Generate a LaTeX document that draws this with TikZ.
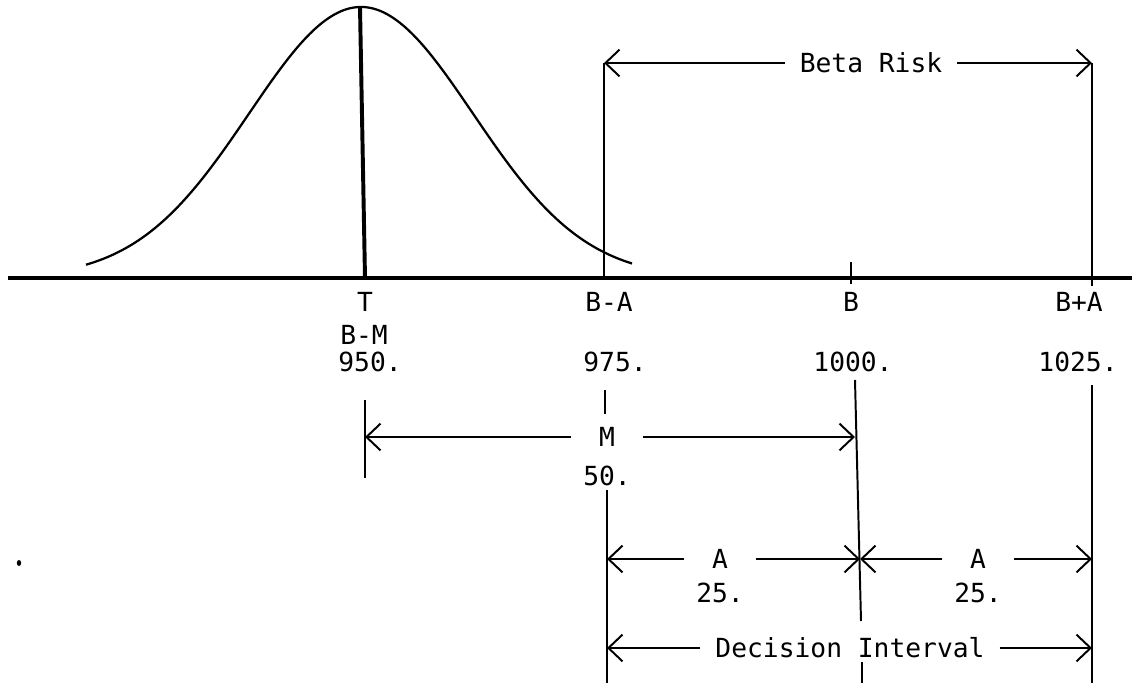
\documentclass[tikz,border=0pt]{standalone}
\usepackage{fontspec}
\setmainfont{DejaVu Sans Mono}
\usetikzlibrary{arrows.meta}

\begin{document}
\begin{tikzpicture}[x=0.025cm, y=-0.025cm, line width=1.4pt,
    lbl/.style={font=\fontsize{18.7}{20}\selectfont, inner ysep=0pt, inner xsep=10pt},
    wide/.style={inner xsep=19pt},
    barb/.style={-{Straight Barb[length=10pt,width=19pt]}}]
  \useasboundingbox (0,0) rectangle (1132,683);

  % axis and the distribution
  \coordinate (axL) at (8,278);
  \coordinate (axR) at (1132,278);
  \draw[line width=2.4pt] (axL) -- (axR);
  \draw[line width=1.6pt] plot[domain=86:632, samples=90, smooth]
    (\x, {278-271*exp(-0.5*((\x-361)/112)^2)});
  \coordinate (Ttop) at (360,7);
  \coordinate (Tbot) at (365,278);
  \draw[line width=2.8pt] (Ttop) -- (Tbot);

  % beta risk box
  \coordinate (bl) at (604,63);
  \coordinate (blA) at (604,278);
  \coordinate (br) at (1092,63);
  \coordinate (brA) at (1092,286);
  \draw (blA) -- (bl);
  \draw (brA) -- (br);
  \node[lbl] (beta) at (871,63) {Beta Risk};
  \draw[barb] (beta) -- (bl);
  \draw[barb] (beta) -- (br);
  \coordinate (Bt) at (851,262);
  \coordinate (Bb) at (851,284);
  \draw (Bt) -- (Bb);

  % axis labels
  \node[lbl] (T) at (365,302) {T};
  \node[lbl] (BmA) at (609,302) {B-A};
  \node[lbl] (B) at (851,302) {B};
  \node[lbl] (BpA) at (1079,302) {B+A};
  \node[lbl] (BmM) at (364,335) {B-M};
  \node[lbl] (v950) at (370,362) {950.};
  \node[lbl] (v975) at (615,362) {975.};
  \node[lbl] (v1000) at (853,362) {1000.};
  \node[lbl] (v1025) at (1078,362) {1025.};

  % extension lines
  \coordinate (e1t) at (365,400);
  \coordinate (e1b) at (365,478);
  \coordinate (e2t) at (605,390);
  \coordinate (e2b) at (605,414);
  \coordinate (e3t) at (607,490);
  \coordinate (e3b) at (607,683);
  \coordinate (e4t) at (855,380);
  \coordinate (e4b) at (861,621);
  \coordinate (e5t) at (862,662);
  \coordinate (e5b) at (862,683);
  \coordinate (e6t) at (1092,385);
  \coordinate (e6b) at (1092,683);
  \foreach \a in {1,...,6}
    \draw (e\a t) -- (e\a b);

  % dimensions
  \coordinate (mL) at (365,437);
  \coordinate (mR) at (855,437);
  \node[lbl, wide] (M) at (607,437) {M};
  \node[lbl] (M50) at (607,476) {50.};
  \draw[barb] (M) -- (mL);
  \draw[barb] (M) -- (mR);

  \coordinate (aL) at (607,559);
  \coordinate (aM) at (860,559);
  \coordinate (aR) at (1092,559);
  \node[lbl, wide] (A1) at (720,559) {A};
  \node[lbl] (A1v) at (720,593) {25.};
  \node[lbl, wide] (A2) at (978,559) {A};
  \node[lbl] (A2v) at (978,593) {25.};
  \draw[barb] (A1) -- (aL);
  \draw[barb] (A1) -- (aM);
  \draw[barb] (A2) -- (aM);
  \draw[barb] (A2) -- (aR);

  \coordinate (dL) at (607,648);
  \coordinate (dR) at (1092,648);
  \node[lbl] (dec) at (850,648) {Decision Interval};
  \draw[barb] (dec) -- (dL);
  \draw[barb] (dec) -- (dR);

  \fill (19,563) ellipse (2.2 and 3);
\end{tikzpicture}
\end{document}
